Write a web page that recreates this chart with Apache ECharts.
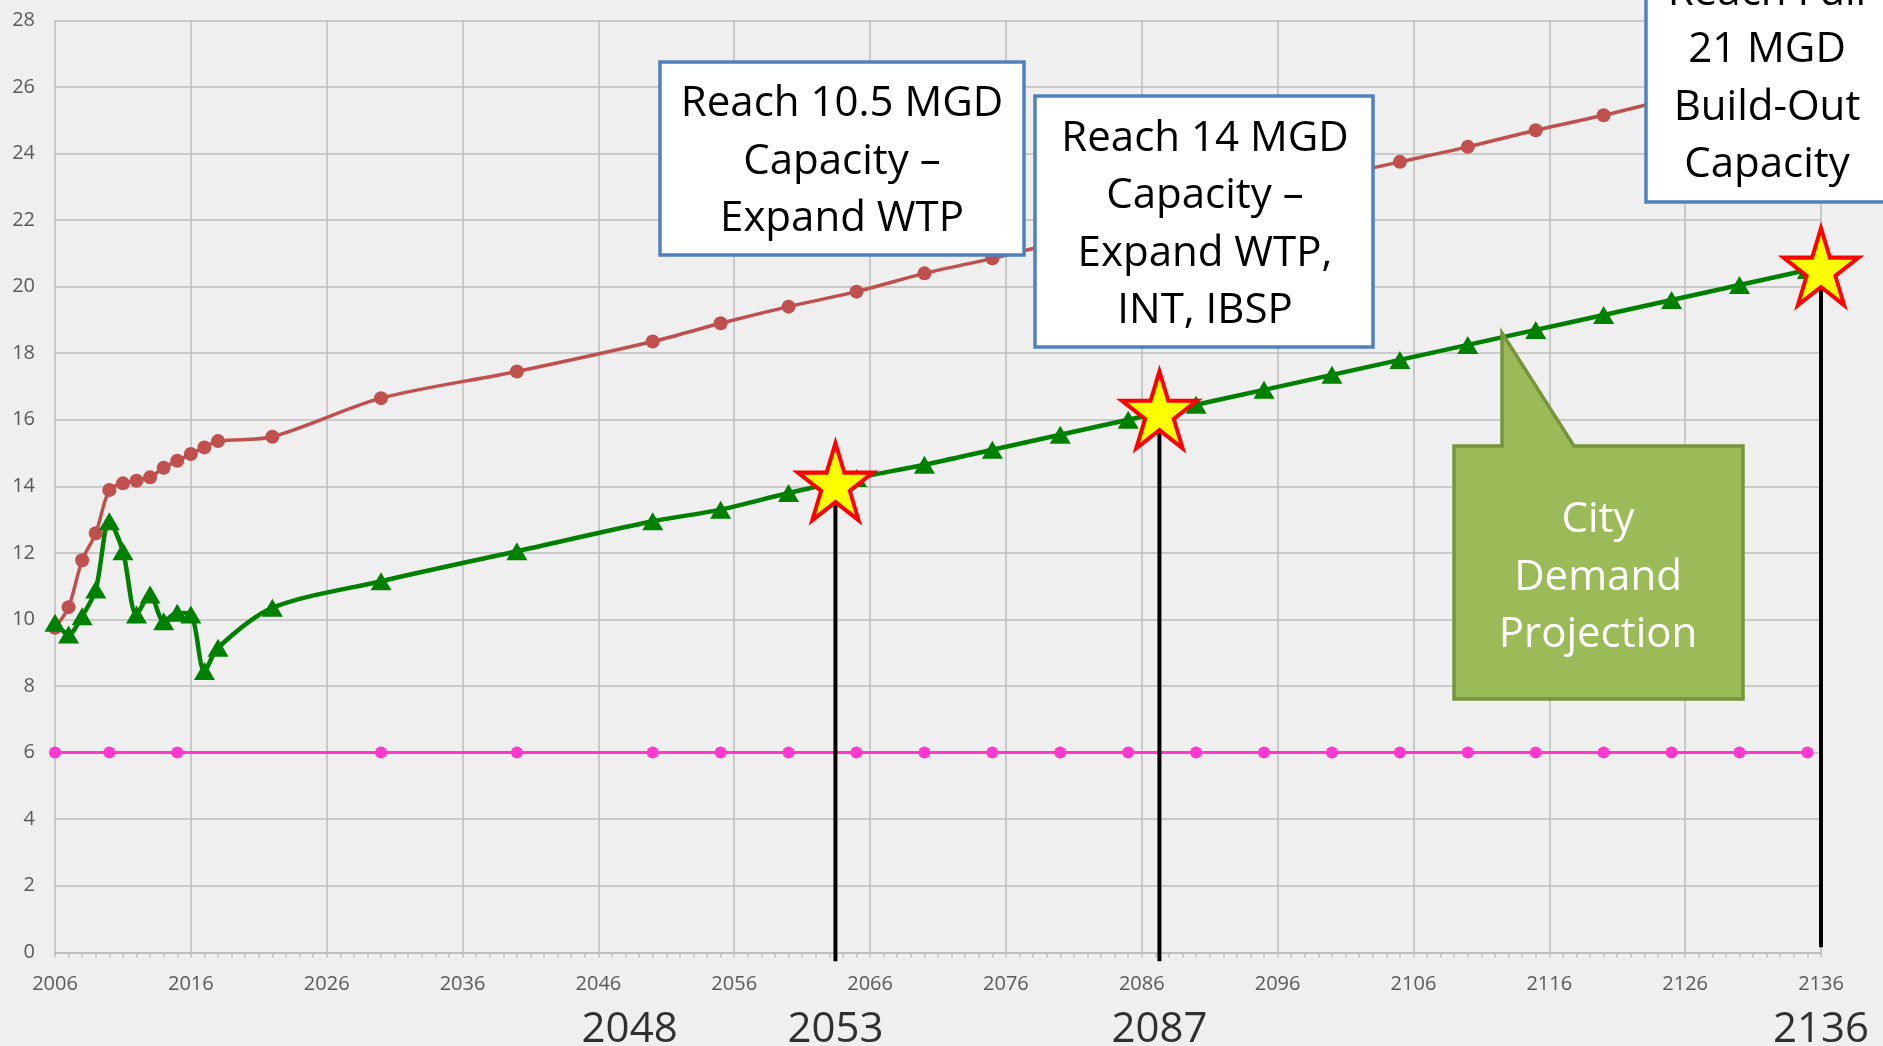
<!DOCTYPE html>
<html>
<head>
<meta charset="utf-8">
<script src="https://cdn.jsdelivr.net/npm/echarts@6/dist/echarts.min.js"></script>
<style>
    html, body { margin: 0; padding: 0; background: #efefef; }
    #container { width: 1883px; height: 1046px; }
</style>
</head>
<body>
<div id="container"></div>
<script>
var BASE_YEAR = 2006;
var FONT = '"Open Sans", sans-serif';

// capacity (red)
var capacityYears = [2006, 2007, 2008, 2009, 2010, 2011, 2012, 2013, 2014, 2015, 2016, 2017, 2018, 2022, 2030, 2040,
    2050, 2055, 2060, 2065, 2070, 2075, 2080, 2085, 2090, 2095, 2100, 2105, 2110, 2115, 2120, 2125, 2130, 2135];
var capacityValues = [9.75, 10.37, 11.78, 12.59, 13.89, 14.09, 14.17, 14.27, 14.56, 14.77, 14.97, 15.17, 15.36, 15.49, 16.65, 17.45,
    18.35, 18.9, 19.4, 19.85, 20.4, 20.85, 21.35, 21.85, 22.35, 22.85, 23.3, 23.75, 24.2, 24.7, 25.15, 25.65, 26.1, 26.55];

// city demand (green)
var demandYears = [2006, 2007, 2008, 2009, 2010, 2011, 2012, 2013, 2014, 2015, 2016, 2017, 2018, 2022, 2030, 2040,
    2050, 2055, 2060, 2065, 2070, 2075, 2080, 2085, 2090, 2095, 2100, 2105, 2110, 2115, 2120, 2125, 2130, 2135];
var demandValues = [9.9, 9.55, 10.1, 10.9, 12.95, 12.05, 10.15, 10.75, 9.95, 10.2, 10.15, 8.45, 9.15, 10.35, 11.15, 12.05,
    12.95, 13.3, 13.8, 14.25, 14.65, 15.1, 15.55, 16.0, 16.45, 16.9, 17.35, 17.8, 18.25, 18.7, 19.15, 19.6, 20.05, 20.5];

// base supply (pink)
var baseYears = [2006, 2010, 2015, 2030, 2040, 2050, 2055, 2060, 2065, 2070, 2075, 2080, 2085, 2090, 2095,
    2100, 2105, 2110, 2115, 2120, 2125, 2130, 2135];
var baseValues = [6, 6, 6, 6, 6, 6, 6, 6, 6, 6, 6, 6, 6, 6, 6, 6, 6, 6, 6, 6, 6, 6, 6];

// milestones (stars + vertical lines)
var milestoneX = [2063.45, 2087.3, 2136];
var milestoneValues = [14.14, 16.3, 20.6];
var milestoneBottom = [-0.27, -0.27, 0.15];

// big year labels under the axis
var yearLabels = ['2048', '2053', '2087', '2136'];
var yearLabelX = [2048.3, 2063.45, 2087.3, 2136];

function pairs(xs, ys) {
    return xs.map(function (x, i) { return [x - BASE_YEAR, ys[i]]; });
}

function starPath(inner) {
    var pts = [];
    for (var i = 0; i < 10; i++) {
        var r = i % 2 ? inner : 1;
        var a = (-90 + i * 36) * Math.PI / 180;
        pts.push((r * Math.cos(a) * 100).toFixed(2) + ',' + (r * Math.sin(a) * 100).toFixed(2));
    }
    return 'path://M' + pts.join('L') + 'Z';
}

var dom = document.getElementById('container');
var myChart = echarts.init(dom);

var series = [
    {
        type: 'line', name: 'base', z: 2,
        data: pairs(baseYears, baseValues),
        symbol: 'circle', symbolSize: 12,
        lineStyle: { color: '#ff38cf', width: 3 },
        itemStyle: { color: '#ff38cf' }
    },
    {
        type: 'line', name: 'capacity', z: 3, smooth: 0.3,
        data: pairs(capacityYears, capacityValues),
        symbol: 'circle', symbolSize: 14,
        lineStyle: { color: '#c0504d', width: 3.5 },
        itemStyle: { color: '#c0504d' }
    },
    {
        type: 'line', name: 'demand', z: 4, smooth: 0.3,
        data: pairs(demandYears, demandValues),
        symbol: 'triangle', symbolSize: [21, 18],
        lineStyle: { color: '#008000', width: 4.5 },
        itemStyle: { color: '#008000' }
    }
];

milestoneX.forEach(function (x, i) {
    series.push({
        type: 'line', z: 5, clip: false, symbol: 'none', silent: true,
        data: [[x - BASE_YEAR, milestoneBottom[i]], [x - BASE_YEAR, milestoneValues[i]]],
        lineStyle: { color: '#000000', width: 4 }
    });
});

series.push({
    type: 'scatter', name: 'milestones', z: 6, clip: false,
    data: pairs(milestoneX, milestoneValues),
    symbol: starPath(0.382), symbolSize: [75, 77], symbolKeepAspect: false,
    itemStyle: { color: '#ffff00', borderColor: '#ff0000', borderWidth: 4, borderJoin: 'miter', opacity: 1 }
});

series.push({
    type: 'scatter', name: 'yearLabels', z: 6, clip: false, silent: true,
    data: yearLabelX.map(function (x, i) { return [x - BASE_YEAR, -2.33, yearLabels[i]]; }),
    symbolSize: 0,
    itemStyle: { color: 'transparent' },
    label: {
        show: true, position: 'inside',
        formatter: function (p) { return p.value[2]; },
        color: '#000000', fontSize: 42, fontFamily: FONT
    }
});

function box(x, y, w, h, lines, cx, cy) {
    return [
        {
            type: 'rect', z: 100,
            shape: { x: x, y: y, width: w, height: h },
            style: { fill: '#ffffff', stroke: '#4f81bd', lineWidth: 3.5 }
        },
        {
            type: 'text', z: 101, x: cx, y: cy,
            style: {
                text: lines.join('\n'), fill: '#000000',
                fontSize: 42, fontFamily: FONT, lineHeight: 57.5,
                align: 'center', verticalAlign: 'middle'
            }
        }
    ];
}

var graphics = []
    .concat(box(660, 62, 364, 193, ['Reach 10.5 MGD', 'Capacity \u2013', 'Expand WTP'], 842, 162))
    .concat(box(1035, 96, 338, 251, ['Reach 14 MGD', 'Capacity \u2013', 'Expand WTP,', 'INT, IBSP'], 1205, 225))
    .concat(box(1646, -60, 262, 262, ['Reach Full', '21 MGD', 'Build-Out', 'Capacity'], 1767, 79));

graphics.push({
    type: 'polygon', z: 100,
    shape: { points: [[1454, 446], [1502, 446], [1502, 333], [1574, 446], [1743, 446], [1743, 699], [1454, 699]] },
    style: { fill: '#9bbb59', stroke: '#77933c', lineWidth: 3.5, lineJoin: 'miter' }
});
graphics.push({
    type: 'text', z: 101, x: 1598, y: 578,
    style: {
        text: 'City\nDemand\nProjection', fill: '#ffffff',
        fontSize: 42, fontFamily: FONT, lineHeight: 57.5,
        align: 'center', verticalAlign: 'middle'
    }
});

var option = {
    backgroundColor: '#efefef',
    animation: false,
    grid: { left: 55, right: 62, top: 20.4, bottom: 93.7 },
    xAxis: {
        type: 'value', min: 0, max: 130, interval: 10,
        axisLabel: {
            formatter: function (v) { return v + BASE_YEAR; },
            fontSize: 20, color: '#595959', fontFamily: FONT, margin: 22
        },
        axisLine: { show: true, lineStyle: { color: '#bfbfbf', width: 2 } },
        axisTick: { show: true, length: 5, lineStyle: { color: '#bfbfbf', width: 1.5 } },
        minorTick: { show: true, splitNumber: 10, length: 5, lineStyle: { color: '#bfbfbf', width: 1.5 } },
        splitLine: { show: true, lineStyle: { color: '#bcbcbc', width: 1.5 } }
    },
    yAxis: {
        type: 'value', min: 0, max: 28, interval: 2,
        axisLabel: { fontSize: 20, color: '#595959', fontFamily: FONT, margin: 20 },
        axisLine: { show: false },
        axisTick: { show: false },
        splitLine: { show: true, lineStyle: { color: '#bcbcbc', width: 1.5 } }
    },
    series: series,
    graphic: graphics
};

myChart.setOption(option);
</script>
</body>
</html>
